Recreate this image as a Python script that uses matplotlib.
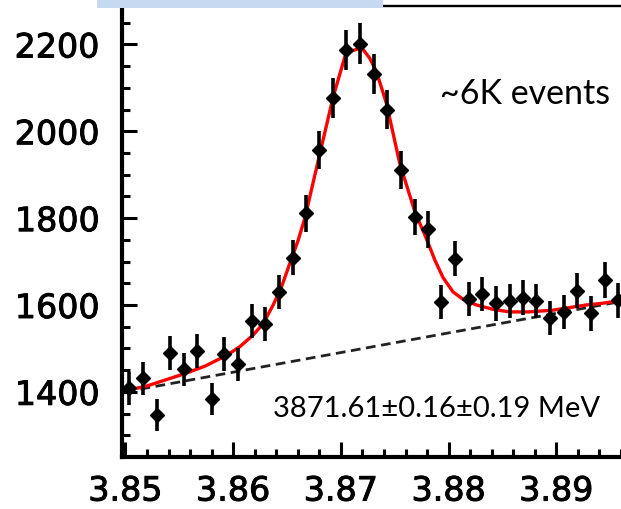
import matplotlib
matplotlib.use("Agg")
import matplotlib.pyplot as plt
import matplotlib.patheffects as pe
from matplotlib.patches import Rectangle
from matplotlib.ticker import MultipleLocator, FormatStrFormatter

# measured mass bins (GeV) and counts with errors
mass = [3.85035, 3.85165, 3.85295, 3.85413, 3.85543, 3.85666, 3.85800, 3.85917,
        3.86046, 3.86171, 3.86294, 3.86427, 3.86551, 3.86674, 3.86798, 3.86928,
        3.87045, 3.87175, 3.87305, 3.87429, 3.87556, 3.87686, 3.87809, 3.87933,
        3.88063, 3.88186, 3.88310, 3.88443, 3.88567, 3.88690, 3.88814, 3.88944,
        3.89068, 3.89195, 3.89318, 3.89448, 3.89571]
counts = [1408, 1431, 1346, 1490, 1452, 1494, 1383, 1488, 1463, 1563, 1556, 1630,
          1709, 1811, 1957, 2076, 2187, 2202, 2132, 2050, 1911, 1803, 1774, 1607,
          1707, 1614, 1625, 1604, 1609, 1617, 1609, 1570, 1584, 1633, 1581, 1657, 1611]
errors = [38, 38, 37, 39, 38, 39, 37, 39, 38, 40, 39, 40, 41, 43, 44, 46, 47, 47,
          46, 45, 44, 42, 42, 40, 41, 40, 40, 40, 40, 40, 40, 40, 40, 40, 40, 41, 40]

# fit curve
fit_mass = [3.85011, 3.85181, 3.85366, 3.85552, 3.85737, 3.85939, 3.86062, 3.86186,
            3.86278, 3.86371, 3.86449, 3.86526, 3.86603, 3.86665, 3.86805, 3.86928,
            3.87036, 3.87090, 3.87160, 3.87210, 3.87268, 3.87330, 3.87423, 3.87546,
            3.87690, 3.87778, 3.87825, 3.87871, 3.87948, 3.88041, 3.88134, 3.88258,
            3.88412, 3.88567, 3.88740, 3.88968, 3.89123, 3.89278, 3.89432, 3.89587]
fit_counts = [1404, 1412, 1427, 1442, 1459, 1484, 1504, 1531, 1557, 1600, 1642, 1696,
              1749, 1800, 1949, 2079, 2171, 2184, 2190, 2187, 2168, 2137, 2064, 1926,
              1812, 1762, 1733, 1704, 1663, 1630, 1613, 1600, 1590, 1584, 1584, 1588,
              1594, 1600, 1604, 1610]

# linear background
bkg_mass = [3.85, 3.8960]
bkg_counts = [1400, 1608]

fig = plt.figure(figsize=(6.21, 5.09), dpi=100)
ax = fig.add_axes([0.1965, 0.1031, 0.8035, 0.8847])

ax.plot(bkg_mass, bkg_counts, color="#222222", lw=2.0, ls=(0, (3.5, 2.0)), zorder=2)
ax.plot(fit_mass, fit_counts, color="#ff0000", lw=2.4, zorder=3,
        solid_joinstyle="round")
ax.errorbar(mass, counts, yerr=errors, fmt="D", color="black", ms=7.5,
            elinewidth=2.6, capsize=0, zorder=4, clip_on=False)

ax.set_xlim(3.84968, 3.8960)
ax.set_ylim(1251, 2288)

ax.xaxis.set_major_locator(MultipleLocator(0.01))
ax.xaxis.set_minor_locator(MultipleLocator(0.002))
ax.yaxis.set_major_locator(MultipleLocator(200))
ax.yaxis.set_minor_locator(MultipleLocator(50))
ax.xaxis.set_major_formatter(FormatStrFormatter("%.2f"))
ax.yaxis.set_major_formatter(FormatStrFormatter("%d"))

ax.tick_params(which="both", direction="in", width=2.2, top=False, right=False,
               labelsize=24, colors="black")
ax.tick_params(which="major", length=11)
ax.tick_params(which="minor", length=5.5)
ax.tick_params(axis="y", pad=16)
ax.tick_params(axis="x", pad=13)
heavy = [pe.withStroke(linewidth=0.7, foreground="black")]
for lab in ax.get_xticklabels() + ax.get_yticklabels():
    lab.set_family("DejaVu Sans")
    lab.set_path_effects(heavy)

ax.spines["right"].set_visible(False)
ax.spines["left"].set_linewidth(3)
ax.spines["bottom"].set_linewidth(3)
ax.spines["top"].set_linewidth(1.7)

fig.text(0.7085, 0.7957, "~6K events", fontsize=24.5, family="Lato", va="baseline")
fig.text(0.4396, 0.1802, "3871.61±0.16±0.19 MeV", fontsize=21, family="Lato",
         va="baseline")

# light blue strip over the top edge
fig.patches.append(Rectangle((97 / 621, 1 - 7.5 / 509), (383 - 97) / 621, 7.5 / 509,
                             transform=fig.transFigure, facecolor="#c6d9f1",
                             edgecolor="none", zorder=10))

fig.savefig("out.png", dpi=100)
